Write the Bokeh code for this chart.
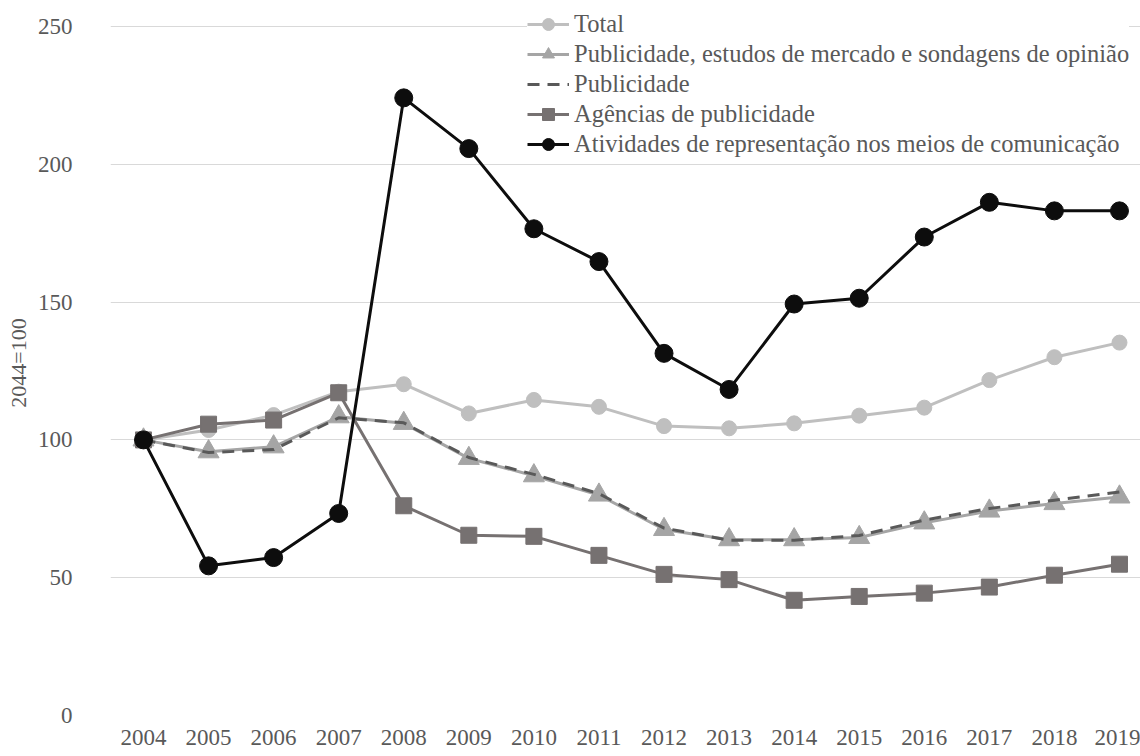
from bokeh.plotting import figure
from bokeh.models import Range1d, FixedTicker, Legend
from bokeh.embed import file_html
from bokeh.resources import INLINE

years = list(range(2004, 2020))
year_labels = [str(y) for y in years]
total = [100, 103.6, 109.0, 117.5, 120.2, 109.6, 114.5, 112.0, 105.0, 104.2, 106.0, 108.8, 111.7, 121.7, 130.0, 135.3]
pub_estudos = [100, 95.7, 97.5, 108.4, 106.0, 93.3, 87.0, 80.0, 67.5, 63.8, 63.8, 64.6, 69.9, 74.2, 76.9, 79.3]
publicidade = [100, 95.4, 96.5, 108.0, 106.2, 93.6, 87.5, 80.5, 68.0, 63.6, 63.6, 65.3, 70.9, 75.1, 78.1, 81.1]
agencias = [100, 105.7, 107.2, 117.1, 76.1, 65.4, 65.0, 58.1, 51.2, 49.3, 41.8, 43.2, 44.4, 46.6, 50.9, 54.9]
atividades = [100, 54.3, 57.3, 73.3, 224.1, 205.7, 176.6, 164.7, 131.4, 118.3, 149.3, 151.4, 173.6, 186.2, 183.1, 183.1]
y_ticks = [0, 50, 100, 150, 200, 250]

names = ["Total",
         "Publicidade, estudos de mercado e sondagens de opinião",
         "Publicidade",
         "Agências de publicidade",
         "Atividades de representação nos meios de comunicação"]

FONT = "'Liberation Serif', 'DejaVu Serif', serif"
TXT = "#595959"

p = figure(width=1140, height=754, output_backend="svg", toolbar_location=None,
           x_range=Range1d(2003.493, 2019.323), y_range=Range1d(0, 255.8),
           min_border_left=110, min_border_right=0, min_border_top=10, min_border_bottom=39)
p.outline_line_color = None
p.background_fill_color = "white"

p.xgrid.grid_line_color = None
p.ygrid.grid_line_color = "#D9D9D9"
p.ygrid.grid_line_width = 1

p.yaxis.ticker = FixedTicker(ticks=y_ticks)
p.xaxis.ticker = FixedTicker(ticks=years)
p.xaxis.major_label_overrides = {y: l for y, l in zip(years, year_labels)}

for ax in (p.xaxis[0], p.yaxis[0]):
    ax.axis_line_color = None
    ax.major_tick_line_color = None
    ax.minor_tick_line_color = None
    ax.major_tick_out = 0
    ax.major_tick_in = 0
    ax.major_label_text_font = FONT
    ax.major_label_text_font_size = "23px"
    ax.major_label_text_color = TXT

p.xaxis.major_label_standoff = 14
p.yaxis.major_label_standoff = 38
p.yaxis.axis_label = "2044=100"
p.yaxis.axis_label_text_font = FONT
p.yaxis.axis_label_text_font_size = "22px"
p.yaxis.axis_label_text_font_style = "normal"
p.yaxis.axis_label_text_color = TXT
p.yaxis.axis_label_standoff = 4

# Total
r1 = p.line(years, total, line_color="#BFBFBF", line_width=3)
m1 = p.scatter(years, total, marker="circle", size=15, fill_color="#BFBFBF", line_color="#BFBFBF")
# Publicidade, estudos...
r2 = p.line(years, pub_estudos, line_color="#A5A5A5", line_width=3)
m2 = p.scatter(years, pub_estudos, marker="triangle", size=21, fill_color="#A5A5A5", line_color="#A5A5A5")
# Publicidade (dashed)
r3 = p.line(years, publicidade, line_color="#595959", line_width=3, line_dash="12 8")
# Agências
r4 = p.line(years, agencias, line_color="#767171", line_width=3)
m4 = p.scatter(years, agencias, marker="square", size=16, fill_color="#767171", line_color="#767171")
# Atividades
r5 = p.line(years, atividades, line_color="#0D0D0D", line_width=3)
m5 = p.scatter(years, atividades, marker="circle", size=18, fill_color="#0D0D0D", line_color="#0D0D0D")

legend = Legend(items=[(names[0], [r1, m1]), (names[1], [r2, m2]), (names[2], [r3]),
                       (names[3], [r4, m4]), (names[4], [r5, m5])],
                location=(417, 556))
legend.margin = 0
legend.padding = 3
legend.spacing = 0
legend.glyph_width = 42
legend.glyph_height = 30
legend.label_height = 30
legend.label_standoff = 5
legend.label_text_font = FONT
legend.label_text_font_size = "24.5px"
legend.label_text_color = TXT
legend.border_line_color = None
legend.background_fill_color = "white"
legend.background_fill_alpha = 1.0
p.add_layout(legend, "center")

open("out.html", "w").write(file_html(p, INLINE))
